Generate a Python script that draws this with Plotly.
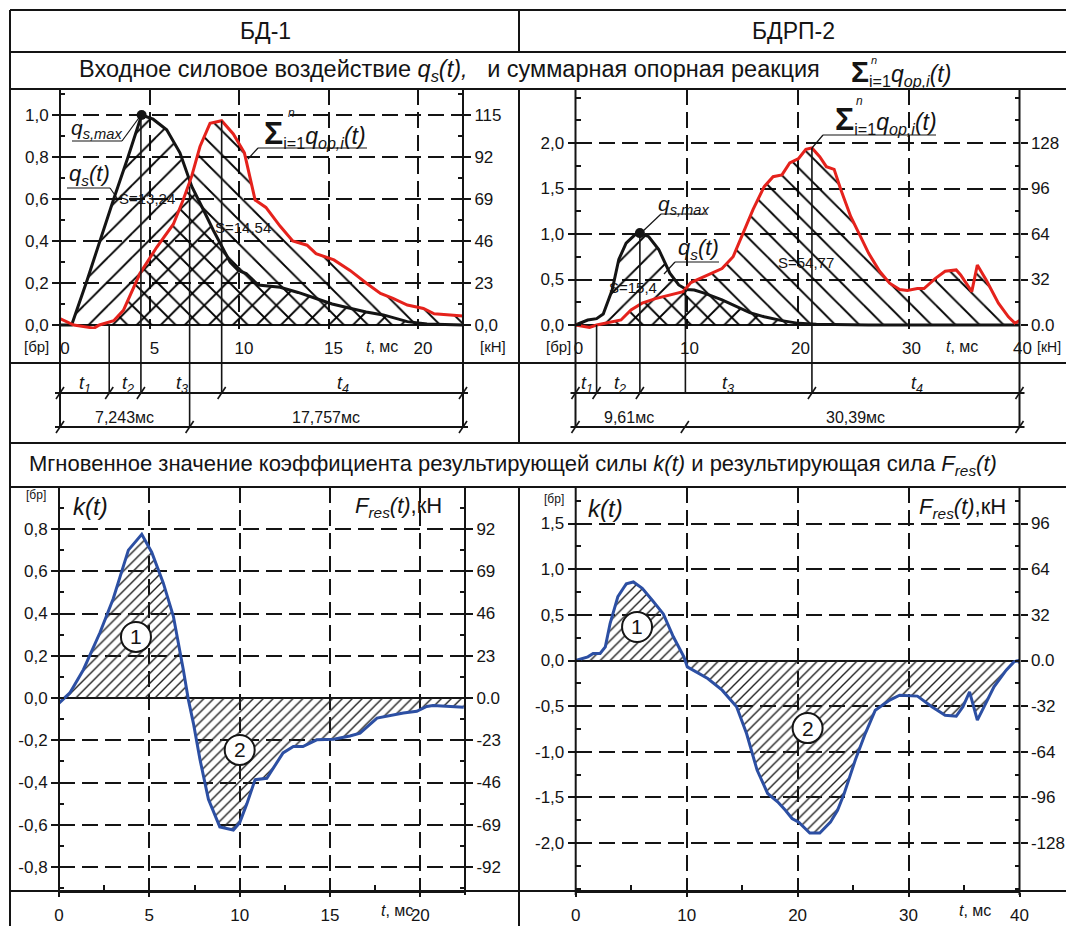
import plotly.graph_objects as go

# ---------------- data ----------------
# БД-1 : input force q_s(t), [бр]
bd1_t_qs = [0, 0.65, 1.5, 2.3, 3.0, 3.8, 4.56, 5.2, 5.96, 6.7, 7.36, 8.0, 8.57, 9.5, 9.96, 10.4,
            11.08, 12.3, 13.3, 14.3, 15.2, 16.2, 17.1, 18.06, 19.4, 20.5, 22.5]
bd1_qs = [0.0, 0.0, 0.21, 0.42, 0.6, 0.8, 1.0, 0.98, 0.93, 0.82, 0.66, 0.55, 0.45, 0.30, 0.26, 0.245,
          0.19, 0.18, 0.155, 0.126, 0.10, 0.08, 0.062, 0.048, 0.016, 0.005, 0.0]
# БД-1 : sum of support reactions, [бр]
bd1_t_op = [0, 0.77, 1.9, 2.2, 3.0, 3.54, 4.47, 5.4, 6.33, 6.9, 7.36, 7.82, 8.38, 9.03, 9.68, 10.3,
            10.9, 11.5, 12.3, 13.0, 13.8, 14.3, 15.3, 16.2, 17.1, 17.9, 18.6, 19.4, 20.3, 20.9, 21.8, 22.5]
bd1_op = [0.03, 0.0, -0.015, 0.0, 0.02, 0.07, 0.246, 0.37, 0.48, 0.6, 0.71, 0.85, 0.96, 0.973, 0.91, 0.82,
          0.595, 0.56, 0.47, 0.40, 0.38, 0.34, 0.31, 0.26, 0.20, 0.15, 0.127, 0.095, 0.079, 0.053, 0.048, 0.043]

# БДРП-2 : input force q_s(t)
bdrp_t_qs = [0, 1.1, 1.9, 2.5, 3.3, 3.9, 4.56, 5.35, 5.8, 6.6, 7.5, 8.5, 9.3, 10.0, 10.7, 11.6,
             13.2, 14.5, 15.7, 17.0, 18.6, 20.1, 21.7, 26.4, 40]
bdrp_qs = [0, 0.055, 0.07, 0.12, 0.385, 0.72, 0.9, 0.99, 1.01, 0.97, 0.83, 0.57, 0.44, 0.39, 0.385, 0.35,
           0.275, 0.2, 0.136, 0.09, 0.048, 0.018, 0.007, 0.0, 0.0]
# БДРП-2 : sum of support reactions
bdrp_t_op = [0, 1.26, 1.9, 3.1, 4.1, 5.0, 6.0, 7.2, 8.5, 9.7, 10.4, 11.6, 13.2, 14.2, 15.1, 16.0,
             17.0, 17.8, 18.6, 19.3, 20.1, 20.75, 21.3, 22.0, 22.6, 23.3, 23.9, 24.8, 25.8, 26.4,
             27.4, 28.3, 29.2, 29.9, 30.8, 31.4, 32.4, 33.3, 34.3, 34.7, 35.7, 36.2, 37.0, 38.1,
             39.0, 39.6, 40.0]
bdrp_op = [0, -0.026, 0, 0.026, 0.055, 0.165, 0.24, 0.29, 0.33, 0.367, 0.466, 0.53, 0.62, 0.75, 1.01, 1.27,
           1.52, 1.63, 1.65, 1.78, 1.83, 1.93, 1.945, 1.85, 1.74, 1.71, 1.49, 1.19, 0.94, 0.79,
           0.59, 0.46, 0.39, 0.38, 0.40, 0.40, 0.51, 0.59, 0.605, 0.55, 0.367, 0.66, 0.495, 0.24,
           0.09, 0.018, 0.05]

# k(t) – resulting force coefficient
bd1_t_k = [0, 0.6, 1.35, 2.27, 3.0, 3.84, 4.58, 5.13, 5.77, 6.33, 6.88, 7.16, 7.44, 7.8, 8.27, 8.9,
           9.65, 10.0, 10.4, 10.85, 11.5, 12.4, 12.97, 13.5, 14.26, 15.2, 16.1, 16.66, 17.6, 18.1,
           19.06, 19.8, 20.35, 20.7, 21.6, 22.4]
bd1_k = [-0.024, 0.024, 0.134, 0.31, 0.47, 0.70, 0.775, 0.69, 0.545, 0.387, 0.134, -0.008, -0.12, -0.29,
         -0.48, -0.61, -0.625, -0.59, -0.50, -0.387, -0.38, -0.26, -0.23, -0.23, -0.198, -0.195, -0.18,
         -0.166, -0.095, -0.087, -0.071, -0.063, -0.04, -0.036, -0.04, -0.044]
bdrp_t_k = [0, 1.1, 1.57, 2.2, 2.67, 3.1, 3.8, 4.56, 5.2, 6.0, 6.9, 7.9, 8.8, 9.75, 10.06, 11.0, 11.9,
            13.2, 14.5, 15.4, 16.35, 17.3, 18.2, 18.9, 19.5, 20.1, 21.1, 22.0, 22.96, 23.6, 24.2,
            25.2, 26.1, 27.0, 28.3, 29.2, 30.8, 32.1, 33.3, 34.3, 34.9, 35.5, 36.2, 36.8, 37.7,
            38.8, 39.5, 39.9, 40.0]
bdrp_k = [0, 0.04, 0.077, 0.077, 0.15, 0.405, 0.70, 0.84, 0.86, 0.79, 0.66, 0.51, 0.26, 0.04, -0.07,
          -0.135, -0.197, -0.325, -0.507, -0.80, -1.2, -1.456, -1.547, -1.64, -1.73, -1.77, -1.89,
          -1.89, -1.77, -1.64, -1.456, -1.09, -0.80, -0.544, -0.434, -0.38, -0.39, -0.507, -0.60,
          -0.61, -0.507, -0.343, -0.653, -0.507, -0.288, -0.106, -0.015, 0.0, -0.03]

# time marks (ms)
bd1_marks = [2.75, 4.52, 7.24, 9.03]
bdrp_marks = [1.9, 5.8, 9.9, 21.3]

# force scale factors: kN per unit [бр]
bd1_kn_per_unit = 115
bdrp_kn_per_unit = 64

# tick labels
bd1_q_vals = [0, 0.2, 0.4, 0.6, 0.8, 1.0]
bd1_q_text = ['0,0', '0,2', '0,4', '0,6', '0,8', '1,0']
bd1_kn_vals = [0, 23, 46, 69, 92, 115]
bd1_kn_text = ['0,0', '23', '46', '69', '92', '115']
bdrp_q_vals = [0, 0.5, 1.0, 1.5, 2.0]
bdrp_q_text = ['0,0', '0,5', '1,0', '1,5', '2,0']
bdrp_kn_vals = [0, 32, 64, 96, 128]
bdrp_kn_text = ['0.0', '32', '64', '96', '128']
bd1_k_vals = [-0.8, -0.6, -0.4, -0.2, 0, 0.2, 0.4, 0.6, 0.8]
bd1_k_text = ['-0,8', '-0,6', '-0,4', '-0,2', '0,0', '0,2', '0,4', '0,6', '0,8']
bd1_f_vals = [-92, -69, -46, -23, 0, 23, 46, 69, 92]
bd1_f_text = ['-92', '-69', '-46', '-23', '0.0', '23', '46', '69', '92']
bdrp_k_vals = [-2.0, -1.5, -1.0, -0.5, 0, 0.5, 1.0, 1.5]
bdrp_k_text = ['-2,0', '-1,5', '-1,0', '-0,5', '0,0', '0,5', '1,0', '1,5']
bdrp_f_vals = [-128, -96, -64, -32, 0, 32, 64, 96]
bdrp_f_text = ['-128', '-96', '-64', '-32', '0.0', '32', '64', '96']
bd1_t_ticks = [0, 5, 10, 15, 20]
bdrp_t_ticks = [0, 10, 20, 30, 40]

# ---------------- helpers ----------------
W, H = 1066, 926
INK = '#141414'
RED = '#e5221c'
BLUE = '#2c4fa3'
FONT = 'Liberation Sans, Arial, sans-serif'
TICK = 17


def px(x):
    return x / W


def py(y):
    return 1 - y / H


# chart geometry (pixels) and value ranges
G = {
    'A': dict(x=(60, 463), xr=(0, 22.51), y=(89, 329), yr=(-4 / 210, 236 / 210), f=bd1_kn_per_unit),
    'B': dict(x=(575.5, 1019.5), xr=(0, 40), y=(89, 329), yr=(-4 / 91, 236 / 91), f=bdrp_kn_per_unit),
    'C': dict(x=(59, 465), xr=(0, 22.47), y=(487, 891), yr=(-193 / 211.25, 211 / 211.25), f=bd1_kn_per_unit),
    'D': dict(x=(575.7, 1019.5), xr=(0, 40), y=(487, 891), yr=(-230.5 / 91.33, 173.5 / 91.33), f=bdrp_kn_per_unit),
}


def xpix(c, t):
    g = G[c]
    return g['x'][0] + (t - g['xr'][0]) / (g['xr'][1] - g['xr'][0]) * (g['x'][1] - g['x'][0])


def ypix(c, v):
    g = G[c]
    return g['y'][0] + (g['yr'][1] - v) / (g['yr'][1] - g['yr'][0]) * (g['y'][1] - g['y'][0])


def steps(step, lo, hi):
    out = []
    n = int(lo // step) - 1
    while n * step <= hi:
        v = round(n * step, 6)
        if lo < v < hi:
            out.append(v)
        n += 1
    return out


shapes = []
annotations = []


def seg(x0, y0, x1, y1, w=2.0, color=INK):
    shapes.append(dict(type='line', xref='paper', yref='paper', x0=px(x0), y0=py(y0),
                       x1=px(x1), y1=py(y1), line=dict(color=color, width=w), layer='above'))


def ann(x, y, text, size=14, xanchor='center', yanchor='middle'):
    annotations.append(dict(xref='paper', yref='paper', x=px(x), y=py(y), text=text, showarrow=False,
                            font=dict(family=FONT, size=size, color=INK), xanchor=xanchor, yanchor=yanchor))


fig = go.Figure()

axes = {'A': ('x', 'y', 'y2'), 'B': ('x2', 'y3', 'y4'), 'C': ('x3', 'y5', 'y6'), 'D': ('x4', 'y7', 'y8')}


def fill_trace(c, t, v, shape, size, solidity, color='#000000'):
    xa, ya, _ = axes[c]
    fig.add_trace(go.Scatter(x=t, y=v, xaxis=xa, yaxis=ya, mode='lines', line=dict(width=0),
                             fill='tozeroy', fillcolor='rgba(0,0,0,0)',
                             fillpattern=dict(shape=shape, size=size, solidity=solidity, fgcolor=color,
                                              fgopacity=1, bgcolor='rgba(0,0,0,0)', fillmode='overlay'),
                             hoverinfo='skip', showlegend=False))


def line_trace(c, t, v, color, width=3):
    xa, ya, _ = axes[c]
    fig.add_trace(go.Scatter(x=t, y=v, xaxis=xa, yaxis=ya, mode='lines',
                             line=dict(color=color, width=width), hoverinfo='skip', showlegend=False))


def kn_trace(c, t, v):
    # the same curve expressed in kN on the right-hand axis (kept invisible, it carries the kN scale)
    xa, _, ya2 = axes[c]
    f = G[c]['f']
    fig.add_trace(go.Scatter(x=t, y=[val * f for val in v], xaxis=xa, yaxis=ya2, mode='lines',
                             line=dict(width=0, color='rgba(0,0,0,0)'), opacity=0,
                             hoverinfo='skip', showlegend=False))


# ---- top charts
fill_trace('A', bd1_t_qs, bd1_qs, '/', 17, 0.11)
fill_trace('A', bd1_t_op, bd1_op, '\\', 17, 0.11)
line_trace('A', bd1_t_qs, bd1_qs, INK, 3)
line_trace('A', bd1_t_op, bd1_op, RED, 3)
kn_trace('A', bd1_t_op, bd1_op)
fill_trace('B', bdrp_t_qs, bdrp_qs, '/', 17, 0.11)
fill_trace('B', bdrp_t_op, bdrp_op, '\\', 17, 0.11)
line_trace('B', bdrp_t_qs, bdrp_qs, INK, 3)
line_trace('B', bdrp_t_op, bdrp_op, RED, 3)
kn_trace('B', bdrp_t_op, bdrp_op)
# q_s,max dots
for c, t, v in (('A', bd1_t_qs, bd1_qs), ('B', bdrp_t_qs, bdrp_qs)):
    i = v.index(max(v))
    xa, ya, _ = axes[c]
    fig.add_trace(go.Scatter(x=[t[i]], y=[v[i]], xaxis=xa, yaxis=ya, mode='markers',
                             marker=dict(color=INK, size=10), hoverinfo='skip', showlegend=False))

# ---- bottom charts
fill_trace('C', bd1_t_k, bd1_k, '/', 7, 0.2, '#222222')
line_trace('C', bd1_t_k, bd1_k, BLUE, 3)
kn_trace('C', bd1_t_k, bd1_k)
fill_trace('D', bdrp_t_k, bdrp_k, '/', 7, 0.2, '#222222')
line_trace('D', bdrp_t_k, bdrp_k, BLUE, 3)
kn_trace('D', bdrp_t_k, bdrp_k)


# ---------------- axes ----------------
def x_axis(c, ticks, anchor, bottom):
    g = G[c]
    d = dict(domain=[px(g['x'][0]), px(g['x'][1])], range=list(g['xr']), anchor=anchor,
             tickmode='array', tickvals=ticks, ticktext=[str(v) for v in ticks],
             showgrid=True, gridcolor=INK, gridwidth=2, griddash='16px,7px', zeroline=False,
             tickfont=dict(family=FONT, size=TICK, color=INK), fixedrange=True)
    if bottom:
        step = ticks[1] - ticks[0]
        d.update(showline=True, linecolor=INK, linewidth=2, ticks='outside', ticklen=4, tickwidth=2,
                 tickcolor=INK, ticklabelstandoff=4,
                 minor=dict(tickmode='array', tickvals=[v + step / 2 for v in ticks if v + step / 2 < g['xr'][1]],
                            ticks='inside', ticklen=6, tickwidth=1.5, tickcolor=INK, showgrid=False))
    else:
        d.update(showline=False, ticks='', ticklabelstandoff=7)
    return d


def y_axis(c, vals, text, anchor, minor_step, right=False, overlay=None):
    g = G[c]
    f = g['f'] if right else 1
    lo, hi = g['yr'][0] * f, g['yr'][1] * f
    mv = steps(minor_step * f, lo, hi)
    d = dict(domain=[py(g['y'][1]), py(g['y'][0])], range=[lo, hi], anchor=anchor,
             tickmode='array', tickvals=vals, ticktext=text, ticks='outside', ticklen=7, tickwidth=1.5,
             tickcolor=INK, showline=False, tickfont=dict(family=FONT, size=TICK, color=INK),
             minor=dict(tickmode='array', tickvals=mv, ticks='inside', ticklen=5, tickwidth=1.5,
                        tickcolor=INK, showgrid=False),
             fixedrange=True)
    if right:
        d.update(side='right', overlaying=overlay, showgrid=False, zeroline=False)
    else:
        d.update(showgrid=True, gridcolor=INK, gridwidth=2, griddash='16px,7px',
                 zeroline=True, zerolinecolor=INK, zerolinewidth=2)
    return d


layout_axes = dict(
    xaxis=x_axis('A', bd1_t_ticks, 'y', False),
    xaxis2=x_axis('B', bdrp_t_ticks, 'y3', False),
    xaxis3=x_axis('C', bd1_t_ticks, 'y5', True),
    xaxis4=x_axis('D', bdrp_t_ticks, 'y7', True),
    yaxis=y_axis('A', bd1_q_vals, bd1_q_text, 'x', 0.1),
    yaxis2=y_axis('A', bd1_kn_vals, bd1_kn_text, 'x', 0.1, True, 'y'),
    yaxis3=y_axis('B', bdrp_q_vals, bdrp_q_text, 'x2', 0.25),
    yaxis4=y_axis('B', bdrp_kn_vals, bdrp_kn_text, 'x2', 0.25, True, 'y3'),
    yaxis5=y_axis('C', bd1_k_vals, bd1_k_text, 'x3', 0.1),
    yaxis6=y_axis('C', bd1_f_vals, bd1_f_text, 'x3', 0.1, True, 'y5'),
    yaxis7=y_axis('D', bdrp_k_vals, bdrp_k_text, 'x4', 0.25),
    yaxis8=y_axis('D', bdrp_f_vals, bdrp_f_text, 'x4', 0.25, True, 'y7'),
)
layout_axes['xaxis']['ticklabelshift'] = 5
layout_axes['xaxis2']['ticklabelshift'] = 3

# ---------------- table frame ----------------
for yy in (10, 52, 89, 363, 443, 487, 891):
    seg(10, yy, 1066, yy, 2)
seg(10, 10, 10, 926, 2)
seg(519, 10, 519, 52, 2)
seg(519, 89, 519, 443, 2)
seg(519, 487, 519, 926, 2)
# chart frames
for c, y0, y1 in (('A', 89, 427), ('B', 89, 427), ('C', 487, 895), ('D', 487, 895)):
    g = G[c]
    seg(g['x'][0], y0, g['x'][0], y1, 2)
    seg(g['x'][1], y0, g['x'][1], y1, 2)

# ---------------- time marks & timeline ----------------
L1, L2 = 393, 427


def mark(c, t, ytop, ybot):
    xa = axes[c][0]
    shapes.append(dict(type='line', xref=xa, yref='paper', x0=t, x1=t, y0=py(ytop), y1=py(ybot),
                       line=dict(color=INK, width=1.6), layer='above'))


def slash(x, y):
    seg(x - 4, y + 6, x + 4, y - 6, 1.6)


mark('A', bd1_marks[0], ypix('A', 0), L1)
mark('A', bd1_marks[1], ypix('A', max(bd1_qs)), L1)
mark('A', bd1_marks[2], ypix('A', 0.66), L2)
mark('A', bd1_marks[3], ypix('A', max(bd1_op)), L1)
mark('B', bdrp_marks[0], ypix('B', 0), L1)
mark('B', bdrp_marks[1], ypix('B', max(bdrp_qs)), L1)
mark('B', bdrp_marks[2], ypix('B', 0.39), L1)
mark('B', bdrp_marks[3], ypix('B', max(bdrp_op)), L1)

for c, marks, l2 in (('A', bd1_marks, [7.24]), ('B', bdrp_marks, [9.85])):
    g = G[c]
    x0, x1 = g['x']
    seg(x0 - 5, L1, x1 + 5, L1, 1.8)
    seg(x0 - 5, L2, x1 + 5, L2, 1.8)
    for xx in [x0, x1] + [xpix(c, m) for i, m in enumerate(marks) if i != 2]:
        slash(xx, L1)
    for xx in [x0, x1] + [xpix(c, m) for m in l2]:
        slash(xx, L2)

T = '<i>t<sub>%s</sub></i>'
ann(84.5, 384, T % '1', 18)
ann(127.5, 384, T % '2', 18)
ann(182, 384, T % '3', 18)
ann(343, 384, T % '4', 18)
ann(124, 417, '7,243мс', 16)
ann(326, 417, '17,757мс', 16)
ann(587, 384, T % '1', 18)
ann(620, 384, T % '2', 18)
ann(728, 384, T % '3', 18)
ann(917, 384, T % '4', 18)
ann(629, 417, '9,61мс', 16)
ann(855, 417, '30,39мс', 16)

# ---------------- headers ----------------
ann(265, 31, 'БД-1', 23)
ann(793, 31, 'БДРП-2', 23)
ann(77, 71, 'Входное силовое воздействие <i>q<sub>s</sub>(t),</i>&nbsp;&nbsp; и суммарная опорная реакция',
    23.5, xanchor='left')
ann(849, 72, '<b><span style="font-size:30px">Σ</span></b><sub>i=1</sub><i>q<sub>op,i</sub>(t)</i>',
    23, xanchor='left')
ann(874, 60, '<i>n</i>', 11)
ann(513, 465, 'Мгновенное значение коэффициента результирующей силы <i>k(t)</i> и результирующая '
              'сила <i>F<sub>res</sub>(t)</i>', 22)

# ---------------- top-left annotations ----------------
ann(97, 129, '<i>q<sub>s,max</sub></i>', 21)
seg(72, 141, 122, 141, 1.2)
seg(122, 141, 141, 115, 1.2)
ann(89, 175, '<i>q<sub>s</sub>(t)</i>', 22)
seg(67, 188, 110, 188, 1.2)
seg(110, 188, 117, 198, 1.2)
ann(147, 198, 'S=13,24', 15)
ann(243, 227, 'S=14,54', 15)
ann(262, 134, '<b><span style="font-size:32px">Σ</span></b><sub>i=1</sub><i>q<sub>op,i</sub>(t)</i>',
    23, xanchor='left')
ann(291, 113, '<i>n</i>', 12)
seg(258, 148, 367, 148, 1.2)
seg(258, 148, 248, 159, 1.2)

# ---------------- top-right annotations ----------------
ann(684, 205, '<i>q<sub>s,max</sub></i>', 21)
seg(661, 214, 706, 214, 1.2)
seg(661, 214, 641, 233, 1.2)
ann(698, 249, '<i>q<sub>s</sub>(t)</i>', 22)
seg(675, 262, 719, 262, 1.2)
seg(675, 262, 664, 274, 1.2)
ann(633, 287, 'S=15,4', 15)
ann(806, 262, 'S=54,77', 15)
ann(833, 120, '<b><span style="font-size:32px">Σ</span></b><sub>i=1</sub><i>q<sub>op,i</sub>(t)</i>',
    23, xanchor='left')
ann(859, 101, '<i>n</i>', 12)
seg(823, 135, 936, 135, 1.2)
seg(823, 135, 812, 148, 1.2)

# axis unit labels
ann(36, 347, '[бр]', 15)
ann(493, 347, '[кН]', 15)
ann(382, 347, '<i>t</i>, мс', 16)
ann(558, 347, '[бр]', 15)
ann(1049, 347, '[кН]', 14)
ann(962, 346, '<i>t</i>, мс', 16)

# ---------------- bottom annotations ----------------
ann(36, 495, '[бр]', 12)
ann(90, 507, '<i>k(t)</i>', 24)
ann(398, 507, '<i>F<sub>res</sub>(t)</i>,кН', 22)
ann(397, 910, '<i>t</i>, мс', 16)
ann(554, 499, '[бр]', 12)
ann(605, 508, '<i>k(t)</i>', 24)
ann(962, 508, '<i>F<sub>res</sub>(t)</i>,кН', 22)
ann(975, 910, '<i>t</i>, мс', 16)

# circled area numbers
circles = [('C', 4.26, 0.289, '1'), ('C', 10.0, -0.246, '2'), ('D', 5.53, 0.367, '1'), ('D', 20.9, -0.74, '2')]
for c, t, v, s in circles:
    xa, ya, _ = axes[c]
    shapes.append(dict(type='circle', xref=xa, yref=ya, xsizemode='pixel', ysizemode='pixel',
                       xanchor=t, yanchor=v, x0=-15, x1=15, y0=-15, y1=15,
                       line=dict(color=INK, width=2), fillcolor='white', layer='above'))
    annotations.append(dict(xref=xa, yref=ya, x=t, y=v, text=s, showarrow=False,
                            font=dict(family=FONT, size=21, color=INK)))

fig.update_layout(
    width=W, height=H, margin=dict(l=0, r=0, t=0, b=0, autoexpand=False),
    paper_bgcolor='white', plot_bgcolor='rgba(0,0,0,0)',
    font=dict(family=FONT, color=INK), showlegend=False,
    shapes=shapes, annotations=annotations, **layout_axes)

fig.write_html('out.html', config={'displayModeBar': False},
               post_script="document.body.style.margin='0px';")
